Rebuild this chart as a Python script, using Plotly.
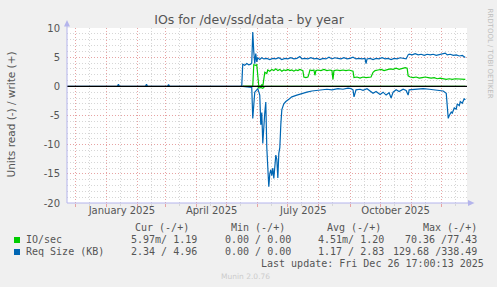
import plotly.graph_objects as go

# ---------------- data ----------------
x_start = "2024-11-22 17:00"
x_end = "2025-12-26 17:00"

month_starts = ["2024-12-01", "2025-01-01", "2025-02-01", "2025-03-01", "2025-04-01",
                "2025-05-01", "2025-06-01", "2025-07-01", "2025-08-01", "2025-09-01",
                "2025-10-01", "2025-11-01", "2025-12-01"]
mid_months = ["2024-11-15", "2024-12-15", "2025-01-15", "2025-02-15", "2025-03-15",
              "2025-04-15", "2025-05-15", "2025-06-15", "2025-07-15", "2025-08-15",
              "2025-09-15", "2025-10-15", "2025-11-15", "2025-12-15"]
label_dates = ["2025-01-16 12:00", "2025-04-16", "2025-07-16 12:00", "2025-10-16 12:00"]
label_texts = ["January 2025", "April 2025", "July 2025", "October 2025"]

y_ticks = [-20, -15, -10, -5, 0, 5, 10]
y_tick_text = ["-20", "-15", "-10", "-5", "0", "5", "10"]

# Req Size (KB) - write (+)
req_write_dates = ["2024-11-23", "2025-01-12", "2025-01-13", "2025-01-14", "2025-02-09", "2025-02-10",
                   "2025-02-11", "2025-03-03", "2025-03-04", "2025-03-05", "2025-05-16",
                   "2025-05-17", "2025-05-19", "2025-05-21", "2025-05-23", "2025-05-25", "2025-05-26",
                   "2025-05-27", "2025-05-28", "2025-05-29", "2025-05-30", "2025-05-31", "2025-06-01",
                   "2025-06-03", "2025-06-05", "2025-06-07", "2025-06-10", "2025-06-13", "2025-06-16",
                   "2025-06-19", "2025-06-22", "2025-06-25", "2025-06-28", "2025-07-01", "2025-07-04",
                   "2025-07-07", "2025-07-10", "2025-07-13", "2025-07-15", "2025-07-18", "2025-07-21",
                   "2025-07-24", "2025-07-27", "2025-07-30", "2025-08-02", "2025-08-05", "2025-08-08",
                   "2025-08-11", "2025-08-14", "2025-08-17", "2025-08-20", "2025-08-23", "2025-08-26",
                   "2025-08-29", "2025-09-01", "2025-09-04", "2025-09-07", "2025-09-10", "2025-09-13",
                   "2025-09-16", "2025-09-17", "2025-09-18", "2025-09-21", "2025-09-24", "2025-09-27",
                   "2025-09-30", "2025-10-03", "2025-10-06", "2025-10-09", "2025-10-12", "2025-10-15",
                   "2025-10-18", "2025-10-21", "2025-10-24", "2025-10-27", "2025-10-29", "2025-10-30",
                   "2025-11-02", "2025-11-05", "2025-11-08", "2025-11-11", "2025-11-14", "2025-11-17",
                   "2025-11-20", "2025-11-23", "2025-11-26", "2025-11-29", "2025-12-02", "2025-12-05",
                   "2025-12-07", "2025-12-10", "2025-12-13", "2025-12-16", "2025-12-19", "2025-12-22",
                   "2025-12-25"]
req_write_vals = [0, 0, 0.35, 0, 0, 0.35,
                  0, 0, 0.3, 0, 0,
                  3.8, 3.6, 3.9, 3.7, 3.8, 4.0,
                  9.3, 6.0, 3.9, 5.6, 4.2, 4.9,
                  4.6, 4.9, 4.7, 4.8, 4.6, 4.8,
                  4.7, 4.9, 4.6, 4.8, 4.7, 4.9,
                  4.7, 4.8, 5.1, 4.7, 4.8, 4.7,
                  4.9, 4.7, 4.8, 4.6, 4.8, 4.7,
                  5.0, 4.7, 4.9, 4.8, 4.7, 4.9,
                  4.7, 4.8, 5.0, 4.7, 4.8, 4.7,
                  4.8, 3.9, 4.7, 4.8, 4.6, 4.8,
                  4.7, 4.9, 4.7, 4.8, 4.6, 4.8,
                  4.7, 4.9, 4.8, 4.7, 5.4, 5.5,
                  5.4, 5.6, 5.4, 5.5, 5.3, 5.5,
                  5.4, 5.5, 5.3, 5.4, 5.5, 5.7,
                  5.4, 5.5, 5.3, 5.4, 5.2, 5.3,
                  4.96]

# Req Size (KB) - read (-), plotted below zero
req_read_dates = ["2025-05-17", "2025-05-22", "2025-05-26", "2025-05-27", "2025-05-28", "2025-05-29",
                  "2025-05-31", "2025-06-01", "2025-06-03", "2025-06-04", "2025-06-05", "2025-06-06",
                  "2025-06-08", "2025-06-09", "2025-06-10", "2025-06-11", "2025-06-12", "2025-06-13",
                  "2025-06-14", "2025-06-15", "2025-06-16", "2025-06-17", "2025-06-18", "2025-06-19",
                  "2025-06-20", "2025-06-21", "2025-06-22", "2025-06-23", "2025-06-24", "2025-06-25",
                  "2025-06-27", "2025-06-29", "2025-07-02", "2025-07-05", "2025-07-10", "2025-07-15",
                  "2025-07-20", "2025-07-25", "2025-07-30", "2025-08-04", "2025-08-09", "2025-08-14",
                  "2025-08-20", "2025-08-25", "2025-08-30", "2025-09-02", "2025-09-04", "2025-09-05",
                  "2025-09-07", "2025-09-11", "2025-09-14", "2025-09-18", "2025-09-21", "2025-09-24",
                  "2025-09-27", "2025-10-01", "2025-10-04", "2025-10-07", "2025-10-10", "2025-10-12",
                  "2025-10-14", "2025-10-17", "2025-10-20", "2025-10-24", "2025-10-27", "2025-10-29",
                  "2025-10-30", "2025-11-06", "2025-11-13", "2025-11-19", "2025-11-26", "2025-12-03",
                  "2025-12-06", "2025-12-08", "2025-12-09", "2025-12-11", "2025-12-12", "2025-12-14",
                  "2025-12-16", "2025-12-17", "2025-12-19", "2025-12-20", "2025-12-22", "2025-12-24",
                  "2025-12-25"]
req_read_vals = [0, 0.1, 0.2, 5.5, 2.0, 1.0,
                 0.6, 0.4, 1.5, 6.6, 4.5, 9.8,
                 4.5, 2.7, 10.5, 15.0, 17.2, 15.0,
                 14.3, 15.3, 14.0, 15.8, 13.2, 11.8,
                 12.5, 15.7, 11.5, 10.5, 6.5, 4.0,
                 3.0, 2.6, 2.2, 1.8, 1.5, 1.2,
                 1.0, 0.8, 0.7, 0.6, 0.5, 0.6,
                 0.4, 0.5, 0.3, 0.4, 0.6, 1.8,
                 0.6, 0.5, 0.7, 0.4, 0.8, 1.2,
                 0.9, 1.4, 1.0, 1.5, 1.1, 2.0,
                 1.0, 0.6, 0.9, 0.5, 0.7, 1.5,
                 0.6, 0.5, 0.4, 0.5, 0.6, 0.8,
                 1.2, 5.5, 5.0, 4.4, 4.6, 3.7,
                 3.9, 3.0, 3.3, 2.6, 2.9, 2.1,
                 2.34]

# IO/sec - write (+)
io_write_dates = ["2025-05-17", "2025-05-27", "2025-05-28", "2025-05-30", "2025-05-31", "2025-06-01",
                  "2025-06-02", "2025-06-04", "2025-06-05", "2025-06-06", "2025-06-07", "2025-06-08",
                  "2025-06-10", "2025-06-11", "2025-06-13", "2025-06-15", "2025-06-17", "2025-06-19",
                  "2025-06-21", "2025-06-23", "2025-06-25", "2025-06-27", "2025-06-29", "2025-07-01",
                  "2025-07-03", "2025-07-05", "2025-07-07", "2025-07-09", "2025-07-11", "2025-07-13",
                  "2025-07-16", "2025-07-17", "2025-07-19", "2025-07-21", "2025-07-22", "2025-07-23",
                  "2025-07-25", "2025-07-27", "2025-07-28", "2025-07-29", "2025-07-31", "2025-08-03",
                  "2025-08-06", "2025-08-09", "2025-08-12", "2025-08-14", "2025-08-15", "2025-08-16",
                  "2025-08-19", "2025-08-22", "2025-08-25", "2025-08-28", "2025-08-31", "2025-09-03",
                  "2025-09-04", "2025-09-05", "2025-09-08", "2025-09-11", "2025-09-14", "2025-09-17",
                  "2025-09-20", "2025-09-22", "2025-09-24", "2025-09-26", "2025-09-29", "2025-10-02",
                  "2025-10-05", "2025-10-08", "2025-10-11", "2025-10-14", "2025-10-17", "2025-10-20",
                  "2025-10-23", "2025-10-26", "2025-10-28", "2025-10-29", "2025-10-31", "2025-11-03",
                  "2025-11-06", "2025-11-09", "2025-11-12", "2025-11-15", "2025-11-18", "2025-11-21",
                  "2025-11-24", "2025-11-27", "2025-11-30", "2025-12-03", "2025-12-06", "2025-12-09",
                  "2025-12-12", "2025-12-15", "2025-12-18", "2025-12-21", "2025-12-23", "2025-12-25"]
io_write_vals = [0, 0, 3.7, 3.6, 3.7, 2.0,
                 0.1, 0.0, 0.3, 0.0, 1.5, 2.4,
                 2.2, 2.8, 2.6, 2.9, 2.7, 3.0,
                 2.7, 2.9, 2.6, 2.8, 2.7, 2.9,
                 2.7, 2.8, 2.6, 2.8, 2.7, 2.9,
                 2.7, 1.6, 1.5, 1.6, 2.1, 2.8,
                 2.7, 2.8, 1.9, 2.7, 2.8, 2.7,
                 2.9, 2.7, 2.8, 2.7, 1.2, 2.7,
                 2.8, 2.7, 2.8, 2.7, 2.8, 2.7,
                 2.6, 1.5, 1.6, 1.4, 1.6, 1.5,
                 1.5, 1.6, 2.4, 2.7, 2.8, 2.9,
                 2.7, 2.9, 3.0, 2.9, 3.1, 2.9,
                 3.0, 3.2, 3.1, 1.8, 1.6, 1.5,
                 1.6, 1.4, 1.5, 1.6, 1.5, 1.4,
                 1.5, 1.3, 1.4, 1.3, 1.2, 1.3,
                 1.2, 1.3, 1.25, 1.2, 1.25, 1.19]

# IO/sec - read (-), plotted below zero
io_read_dates = ["2025-05-17", "2025-06-01", "2025-06-02", "2025-06-04", "2025-06-06", "2025-06-07",
                 "2025-06-08", "2025-12-25"]
io_read_vals = [0, 0, 0.3, 0.2, 0.35, 0.1, 0, 0.006]

# ---------------- figure ----------------
GREEN = "#00CC00"
BLUE = "#0066B3"
TXT = "#555555"

fig = go.Figure()
fig.add_trace(go.Scatter(x=io_read_dates, y=[-v for v in io_read_vals], mode="lines",
                         line=dict(color=GREEN, width=1.2), hoverinfo="skip"))
fig.add_trace(go.Scatter(x=io_write_dates, y=io_write_vals, mode="lines",
                         line=dict(color=GREEN, width=1.2), hoverinfo="skip"))
fig.add_trace(go.Scatter(x=req_read_dates, y=[-v for v in req_read_vals], mode="lines",
                         line=dict(color=BLUE, width=1.2), hoverinfo="skip"))
fig.add_trace(go.Scatter(x=req_write_dates, y=req_write_vals, mode="lines",
                         line=dict(color=BLUE, width=1.2), hoverinfo="skip"))

L, R, T, B = 67, 30, 28, 84
W, H = 497, 287
PW, PH = W - L - R, H - T - B


def px(xp):
    return (xp - L) / PW


def py(yp):
    return (H - B - yp) / PH


AXC = "#b4b4ec"
shapes = [
    # zero line
    dict(type="line", xref="paper", yref="y", x0=0, x1=1, y0=0, y1=0,
         line=dict(color="#000000", width=1.2), layer="above"),
    # axis lines
    dict(type="line", xref="paper", yref="paper", x0=0, x1=0, y0=0, y1=py(22),
         line=dict(color=AXC, width=1)),
    dict(type="line", xref="paper", yref="paper", x0=0, x1=px(470), y0=0, y1=0,
         line=dict(color=AXC, width=1)),
    # arrows
    dict(type="path", xref="paper", yref="paper",
         path=f"M {px(64)} {py(26.5)} L {px(70)} {py(26.5)} L {px(67)} {py(20)} Z",
         fillcolor=AXC, line=dict(width=0)),
    dict(type="path", xref="paper", yref="paper",
         path=f"M {px(468)} {py(200)} L {px(468)} {py(206)} L {px(474.5)} {py(203)} Z",
         fillcolor=AXC, line=dict(width=0)),
    # legend swatches
    dict(type="rect", xref="paper", yref="paper", x0=px(14), x1=px(20), y0=py(243), y1=py(237),
         fillcolor=GREEN, line=dict(width=0)),
    dict(type="rect", xref="paper", yref="paper", x0=px(14), x1=px(20), y0=py(255), y1=py(249),
         fillcolor=BLUE, line=dict(width=0)),
]

MONO = "DejaVu Sans Mono"


def txt(x, y, s, size=10, color=TXT, family=MONO, anchor="left", angle=0):
    return dict(xref="paper", yref="paper", x=px(x), y=py(y), text=s, showarrow=False,
                xanchor=anchor, yanchor="middle", textangle=angle, borderpad=0, borderwidth=0,
                font=dict(family=family, size=size, color=color))


annotations = [
    txt(135, 227.5, "Cur (-/+)"),
    txt(230.5, 227.5, "Min (-/+)"),
    txt(326.5, 227.5, "Avg (-/+)"),
    txt(422.5, 227.5, "Max (-/+)"),
    txt(26, 239.5, "IO/sec"),
    txt(26, 251.5, "Req Size (KB)"),
    txt(131, 239.5, "5.97m/ 1.19"),
    txt(131, 251.5, "2.34 / 4.96"),
    txt(224.5, 239.5, "0.00 / 0.00"),
    txt(224.5, 251.5, "0.00 / 0.00"),
    txt(317.5, 239.5, "4.51m/ 1.20"),
    txt(317.5, 251.5, "1.17 / 2.83"),
    txt(477, 239.5, "70.36 /77.43", anchor="right"),
    txt(477, 251.5, "129.68 /338.49", anchor="right"),
    txt(261, 263.5, "Last update: Fri Dec 26 17:00:13 2025"),
    txt(245, 276.5, "Munin 2.0.76", size=7.5, color="#cccccc", family="DejaVu Sans", anchor="center"),
    txt(489.5, 54, "RRDTOOL / TOBI OETIKER", size=7, color="#bdbdbd", family="DejaVu Sans",
        anchor="center", angle=90),
    txt(10.5, 115, "Units read (-) / write (+)", size=10.5, family="DejaVu Sans",
        anchor="center", angle=-90),
]

fig.update_layout(
    width=W, height=H,
    margin=dict(l=L, r=R, t=T, b=B, pad=0),
    paper_bgcolor="#F0F0F0",
    plot_bgcolor="#FFFFFF",
    showlegend=False,
    title=dict(text="IOs for /dev/ssd/data - by year", x=249 / W, xanchor="center",
               y=1 - 19.5 / H, yanchor="middle",
               font=dict(family="DejaVu Sans", size=12.5, color=TXT)),
    xaxis=dict(type="date", range=[x_start, x_end], tickmode="array", tickvals=month_starts,
               ticktext=[""] * len(month_starts), showgrid=True, gridcolor="#e7a3a3",
               griddash="1px,2px", gridwidth=1, ticks="outside", ticklen=3, tickcolor="#e7a3a3",
               showline=False, zeroline=False,
               minor=dict(tickmode="array", tickvals=mid_months, showgrid=True, gridcolor="#d6d6d6",
                          griddash="1px,2px", gridwidth=1, ticks="outside", ticklen=2,
                          tickcolor="#d6d6d6")),
    xaxis2=dict(type="date", range=[x_start, x_end], overlaying="x", anchor="y", side="bottom",
                tickmode="array", tickvals=label_dates, ticktext=label_texts, showgrid=False,
                ticks="", showline=False, zeroline=False,
                tickfont=dict(family="DejaVu Sans", size=10, color=TXT)),
    yaxis=dict(range=[-20, 10], tickmode="array", tickvals=y_ticks, ticktext=y_tick_text,
               showgrid=True, gridcolor="#e7a3a3", griddash="1px,2px", gridwidth=1,
               zeroline=False, showline=False, ticks="", ticklabelstandoff=6,
               tickfont=dict(family="DejaVu Sans", size=10, color=TXT),
               minor=dict(dtick=1, tick0=0, showgrid=True, gridcolor="#d6d6d6",
                          griddash="1px,2px", gridwidth=1)),
    shapes=shapes,
    annotations=annotations,
)
# dummy trace so xaxis2 is drawn
fig.add_trace(go.Scatter(x=[x_start], y=[None], xaxis="x2", yaxis="y", mode="lines",
                         hoverinfo="skip", showlegend=False))

fig.write_html("out.html")
